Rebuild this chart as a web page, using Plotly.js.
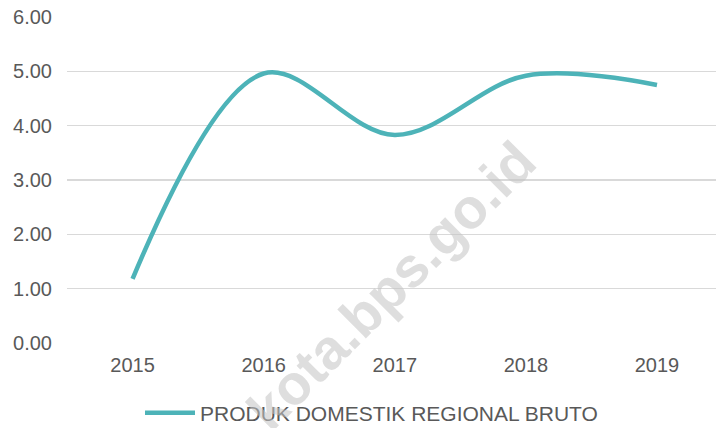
<!DOCTYPE html>
<html>
<head>
<meta charset="utf-8">
<script src="https://cdn.plot.ly/plotly-3.0.1.min.js"></script>
<style>html,body{margin:0;padding:0;background:#fff;}#chart{width:718px;height:428px;}</style>
</head>
<body>
<div id="chart"></div>
<script>
const years = ["2015", "2016", "2017", "2018", "2019"];
const pdrb = [1.18, 4.96, 3.83, 4.92, 4.75];
const yTicks = [0, 1, 2, 3, 4, 5, 6];
const yTickLabels = ["0.00", "1.00", "2.00", "3.00", "4.00", "5.00", "6.00"];
const seriesName = "PRODUK DOMESTIK REGIONAL BRUTO";
const watermark = "kota.bps.go.id";

const font = "Liberation Sans, Arial, sans-serif";
const trace = {
  x: years, y: pdrb, type: "scatter", mode: "lines", name: seriesName,
  line: {color: "#4db3b8", width: 4.5, shape: "spline", smoothing: 1}
};
const layout = {
  width: 718, height: 428,
  margin: {l: 67, r: 2, t: 17, b: 85},
  paper_bgcolor: "#fff", plot_bgcolor: "#fff",
  font: {family: font, size: 20, color: "#595959"},
  xaxis: {type: "category", range: [-0.5, 4.45], showgrid: false, zeroline: false,
          showline: false, ticks: "", ticklabelstandoff: 8,
          tickfont: {family: font, size: 20, color: "#595959"}},
  yaxis: {range: [0, 6], tickvals: yTicks, ticktext: yTickLabels, showgrid: true,
          gridcolor: "#d9d9d9", gridwidth: 1.5, zeroline: false, showline: false,
          ticks: "", ticklabelstandoff: 14,
          tickfont: {family: font, size: 20, color: "#595959"}},
  showlegend: true,
  legend: {orientation: "h", xref: "container", yref: "container", x: 140 / 718, xanchor: "left",
           y: 0.035, yanchor: "middle", itemwidth: 50,
           font: {family: font, size: 21, color: "#595959"},
           bgcolor: "rgba(0,0,0,0)"},
  annotations: [{
    text: "<b>" + watermark + "</b>", xref: "paper", yref: "paper",
    x: (392 - 67) / 651, y: (343 - 285) / 326, xanchor: "center", yanchor: "middle",
    showarrow: false, textangle: -45,
    font: {family: font, size: 56, color: "rgba(195,195,195,0.55)"}
  }]
};
Plotly.newPlot("chart", [trace], layout, {displayModeBar: false, staticPlot: true});
</script>
</body>
</html>
